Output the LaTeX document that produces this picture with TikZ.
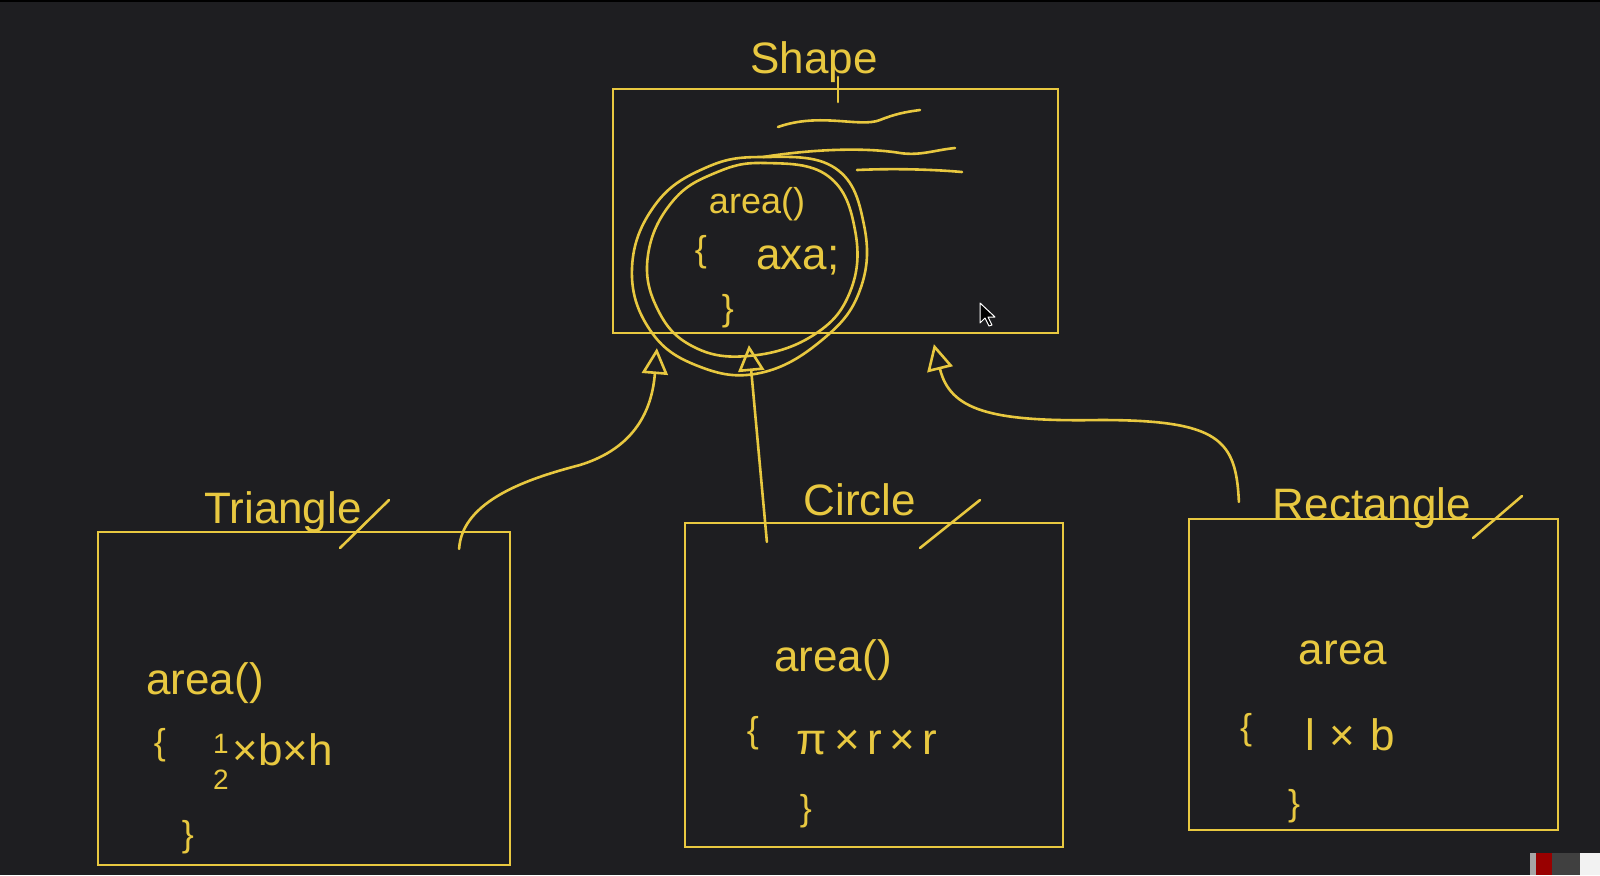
\documentclass[tikz,border=0pt]{standalone}
\usepackage{fontspec}
\setmainfont{Liberation Sans}
\usetikzlibrary{arrows.meta,calc}
\definecolor{bg}{HTML}{1E1E21}
\definecolor{ink}{HTML}{E8C840}
\tikzset{
  box/.style={draw=ink, line width=1.1pt, inner sep=0pt},
  pen/.style={draw=ink, line width=1.3pt, line cap=round, line join=round},
  hand/.style={text=ink, inner sep=0pt, font=\fontsize{22}{26}\selectfont},
  small/.style={text=ink, inner sep=0pt, font=\fontsize{18}{21}\selectfont},
  title/.style={text=ink, inner sep=0pt, font=\fontsize{22}{26}\selectfont},
  inherit/.style={pen, -{Triangle[open, length=13pt, width=13pt, line width=1.3pt]}},
}
\begin{document}
\begin{tikzpicture}[x=0.5pt,y=-0.5pt]
\fill[bg] (0,0) rectangle (1600,875);
\useasboundingbox (0,0) rectangle (1600,875);
\fill[black] (0,0) rectangle (1600,2);
% screen artifact bottom right
\fill[gray!70] (1530,853) rectangle (1536,875);
\fill[red!60!black] (1536,853) rectangle (1552,875);
\fill[black!75] (1552,853) rectangle (1580,875);
\fill[white!90!gray] (1580,853) rectangle (1600,875);

% boxes
\node[box, minimum width=222.5pt, minimum height=122pt] (shape) at (835.5,211) {};
\node[box, minimum width=206pt, minimum height=166.5pt] (tri) at (304,698.5) {};
\node[box, minimum width=189pt, minimum height=162pt] (cir) at (874,685) {};
\node[box, minimum width=184.5pt, minimum height=155.5pt] (rect) at (1373.5,674.5) {};

% titles
\node[title] (tshape) at (814,62) {Shape};
\draw[pen] (838,77) -- (838,102);
\node[title] (ttri) at (283,512) {Triangle};
\draw[pen] (340,548) -- (389,500);
\node[title] (tcir) at (860,500) {Circle};
\draw[pen] (920,548) -- (980,500);
\node[title] (trect) at (1372,508) {Rectangle};
\draw[pen] (1473,538) -- (1522,496);

% Shape contents
\draw[pen] (778,127) .. controls (820,112) and (860,128) .. (880,120) .. controls (895,114) and (905,112) .. (920,110);
\draw[pen] (763,157) .. controls (820,148) and (870,148) .. (900,153) .. controls (920,156) and (935,150) .. (955,148);
\draw[pen] (857,170) .. controls (900,168) and (940,170) .. (962,172);
\node[small] (sarea) at (757,204) {area()};
\node[small] (sob) at (701,252) {\{};
\node[hand] (saxa) at (798,260) {axa;};
\node[small] (scb) at (728,311) {\}};
\draw[pen] plot[smooth cycle, tension=0.7] coordinates {(763,157) (835,168) (864,225) (860,290) (822,340) (760,373) (698,366) (650,330) (632,268) (655,205) (705,168)};
\draw[pen] plot[smooth cycle, tension=0.7] coordinates {(765,163) (828,176) (855,230) (850,292) (812,336) (748,356) (692,346) (657,308) (648,255) (672,202) (715,173)};

% cursor
\draw[white, fill=black, line width=0.5pt, line join=round] (980,303) -- (980,323) -- (985,318) -- (989,326) -- (992,325) -- (988,317) -- (995,317) -- cycle;

% Triangle contents
\node[hand] (tarea) at (205,683) {area()};
\node[small] (tob) at (160,745) {\{};
\node[small, font=\fontsize{14}{16}\selectfont] (tone) at (221,744) {1};
\node[small, font=\fontsize{14}{16}\selectfont] (ttwo) at (221,780) {2};
\node[hand] (tform) at (283,750) {×b×h};
\node[small] (tcb) at (188,837) {\}};

% Circle contents
\node[hand] (carea) at (833,660) {area()};
\node[small] (cob) at (753,733) {\{};
\node[hand] (cform) at (867,742) {π\,×\,r\,×\,r};
\node[small] (ccb) at (806,811) {\}};

% Rectangle contents
\node[hand] (rarea) at (1343,653) {area};
\node[small] (rob) at (1246,730) {\{};
\node[hand] (rform) at (1350,735) {l\,\,×\,\,b};
\node[small] (rcb) at (1294,806) {\}};

% inheritance arrows
\coordinate (a1s) at ($(tri.north east)+(-52,18)$);
\coordinate (a1e) at ($(shape.south west)+(45,14)$);
\coordinate (a2s) at ($(cir.north west)+(83,20)$);
\coordinate (a2e) at ($(shape.south west)+(137,11)$);
\coordinate (a3s) at ($(rect.north west)+(51,-16)$);
\coordinate (a3e) at ($(shape.south west)+(322,10)$);
\draw[inherit] (a1s) .. controls (462,500) and (530,478) .. (580,465) .. controls (635,448) and (652,410) .. (a1e);
\draw[inherit] (a2s) -- (a2e);
\draw[inherit] (a3s) .. controls (1236,440) and (1220,420) .. (1100,420) .. controls (990,422) and (950,410) .. (a3e);
\end{tikzpicture}
\end{document}
